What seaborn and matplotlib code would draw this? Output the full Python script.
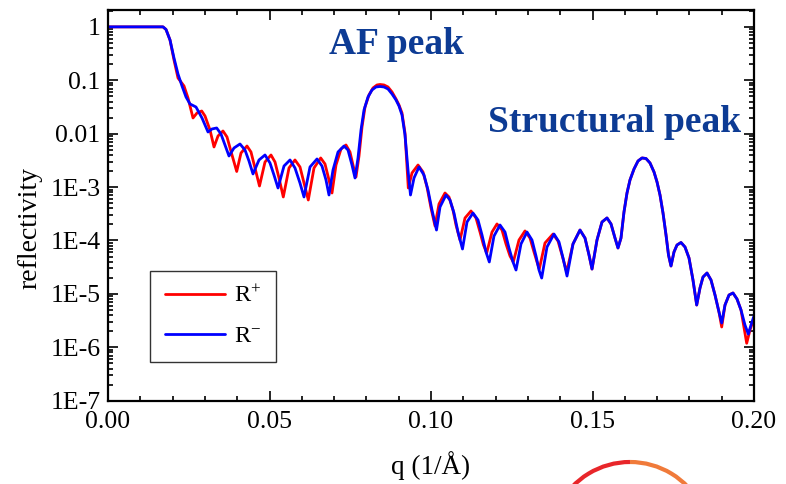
import numpy as np
import pandas as pd
import matplotlib
matplotlib.use("Agg")
import matplotlib.pyplot as plt
import seaborn as sns
from matplotlib.ticker import FixedLocator, FixedFormatter, MultipleLocator, NullFormatter
from matplotlib.patches import Arc

# ---------------- data ----------------
q_minus = [0.0, 0.01703, 0.01796, 0.01920, 0.02043, 0.02167, 0.02291, 0.02415, 0.02539, 0.02724,
           0.02910, 0.03096, 0.03220, 0.03365, 0.03498, 0.03622, 0.03746, 0.03901, 0.04087, 0.04241,
           0.04365, 0.04489, 0.04675, 0.04861, 0.05015, 0.05139, 0.05263, 0.05449, 0.05635, 0.05789,
           0.05944, 0.06068, 0.06254, 0.06471, 0.06625, 0.06749, 0.06842, 0.06966, 0.07121, 0.07307,
           0.07430, 0.07554, 0.07647, 0.07740, 0.07833, 0.07926, 0.08050, 0.08173, 0.08297, 0.08421,
           0.08545, 0.08669, 0.08793, 0.08916, 0.09009, 0.09102, 0.09195, 0.09288, 0.09365, 0.09474,
           0.09628, 0.09783, 0.09907, 0.10031, 0.10170, 0.10279, 0.10464, 0.10588, 0.10712, 0.10836,
           0.10975, 0.11115, 0.11300, 0.11455, 0.11579, 0.11703, 0.11805, 0.11950, 0.12136, 0.12291,
           0.12415, 0.12539, 0.12632, 0.12786, 0.12972, 0.13127, 0.13251, 0.13344, 0.13427, 0.13591,
           0.13808, 0.13963, 0.14087, 0.14211, 0.14396, 0.14613, 0.14768, 0.14892, 0.14985, 0.15139,
           0.15294, 0.15449, 0.15573, 0.15697, 0.15789, 0.15882, 0.15975, 0.16068, 0.16161, 0.16285,
           0.16409, 0.16533, 0.16656, 0.16780, 0.16904, 0.16997, 0.17090, 0.17183, 0.17276, 0.17353,
           0.17430, 0.17523, 0.17616, 0.17740, 0.17864, 0.17988, 0.18111, 0.18226, 0.18328, 0.18421,
           0.18545, 0.18669, 0.18793, 0.18916, 0.19000, 0.19102, 0.19226, 0.19350, 0.19474, 0.19598,
           0.19721, 0.19824, 0.19907, 0.20000]
r_minus = [1.0, 1.0, 0.894, 0.568, 0.2617, 0.1312, 0.0782, 0.0487, 0.0360, 0.0316,
           0.01968, 0.01076, 0.01225, 0.01279, 0.00987, 0.00614, 0.00382, 0.00540, 0.00641, 0.00495,
           0.00308, 0.00176, 0.00322, 0.00399, 0.00283, 0.00168, 0.000962, 0.00248, 0.00322, 0.00228,
           0.00119, 0.000653, 0.00238, 0.00336, 0.00248, 0.00136, 0.000711, 0.00209, 0.00454, 0.00588,
           0.00495, 0.00259, 0.00148, 0.00351, 0.01173, 0.0278, 0.0487, 0.0658, 0.0749, 0.0765,
           0.0749, 0.0687, 0.0554, 0.0428, 0.0330, 0.0224, 0.00946, 0.00209, 0.000711, 0.00148,
           0.00238, 0.00168, 0.000882, 0.000372, 0.000157, 0.000424, 0.000711, 0.000573, 0.000327, 0.000144,
           6.93e-5, 0.000222, 0.000327, 0.000242, 0.000127, 6.09e-5, 3.96e-5, 0.000121, 0.000195, 0.000144,
           7.24e-5, 3.96e-5, 2.80e-5, 8.60e-5, 0.000144, 0.000102, 5.12e-5, 2.80e-5, 1.98e-5, 7.55e-5,
           0.000132, 9.37e-5, 4.70e-5, 2.16e-5, 8.60e-5, 0.000157, 0.000111, 5.35e-5, 2.92e-5, 0.000102,
           0.000222, 0.000264, 0.000204, 0.000111, 7.24e-5, 0.000111, 0.000342, 0.000775, 0.00136, 0.00218,
           0.00308, 0.00351, 0.00343, 0.00283, 0.00192, 0.00125, 0.000711, 0.000327, 0.000127, 5.35e-5,
           3.33e-5, 6.09e-5, 8.23e-5, 9.17e-5, 7.55e-5, 4.70e-5, 1.82e-5, 6.19e-6, 1.29e-5, 2.07e-5,
           2.46e-5, 1.82e-5, 9.53e-6, 4.58e-6, 2.85e-6, 6.19e-6, 9.53e-6, 1.04e-5, 8.02e-6, 4.99e-6,
           2.61e-6, 1.77e-6, 2.61e-6, 3.86e-6]

q_plus = [0.0, 0.01703, 0.01796, 0.01920, 0.02043, 0.02167, 0.02260, 0.02353, 0.02477, 0.02632,
          0.02755, 0.02901, 0.03003, 0.03158, 0.03282, 0.03406, 0.03560, 0.03684, 0.03839, 0.03985,
          0.04118, 0.04303, 0.04427, 0.04551, 0.04690, 0.04861, 0.05046, 0.05170, 0.05294, 0.05427,
          0.05604, 0.05789, 0.05944, 0.06068, 0.06201, 0.06378, 0.06585, 0.06718, 0.06842, 0.06935,
          0.07059, 0.07214, 0.07368, 0.07492, 0.07585, 0.07678, 0.07771, 0.07864, 0.07957, 0.08080,
          0.08204, 0.08328, 0.08421, 0.08545, 0.08669, 0.08793, 0.08916, 0.09009, 0.09102, 0.09195,
          0.09297, 0.09412, 0.09598, 0.09752, 0.09876, 0.10000, 0.10124, 0.10248, 0.10433, 0.10557,
          0.10681, 0.10774, 0.10898, 0.11053, 0.11238, 0.11393, 0.11517, 0.11625, 0.11724, 0.11889,
          0.12043, 0.12198, 0.12322, 0.12446, 0.12548, 0.12724, 0.12910, 0.13065, 0.13189, 0.13282,
          0.13353, 0.13529, 0.13777, 0.13932, 0.14056, 0.14201, 0.14396, 0.14613, 0.14768, 0.14892,
          0.14985, 0.15139, 0.15294, 0.15449, 0.15573, 0.15697, 0.15789, 0.15882, 0.15975, 0.16068,
          0.16161, 0.16285, 0.16409, 0.16533, 0.16656, 0.16780, 0.16904, 0.16997, 0.17090, 0.17183,
          0.17276, 0.17353, 0.17430, 0.17523, 0.17616, 0.17740, 0.17864, 0.17988, 0.18111, 0.18226,
          0.18328, 0.18421, 0.18545, 0.18669, 0.18793, 0.18916, 0.19000, 0.19102, 0.19226, 0.19350,
          0.19474, 0.19598, 0.19721, 0.19774, 0.19876, 0.20000]
r_plus = [1.0, 1.0, 0.894, 0.568, 0.240, 0.1104, 0.0929, 0.0782, 0.0466, 0.01968,
          0.0244, 0.0266, 0.02145, 0.01173, 0.00564, 0.00905, 0.01123, 0.00868, 0.00399, 0.00196,
          0.00435, 0.00588, 0.00454, 0.00228, 0.001048, 0.00295, 0.00399, 0.00295, 0.00148, 0.000653,
          0.00228, 0.00322, 0.00238, 0.00119, 0.000573, 0.00228, 0.00351, 0.00271, 0.00136, 0.000775,
          0.00259, 0.00517, 0.00614, 0.00454, 0.00259, 0.00155, 0.00382, 0.01334, 0.0316, 0.0531,
          0.0718, 0.0817, 0.0834, 0.0817, 0.0749, 0.0604, 0.0447, 0.0345, 0.0244, 0.0103,
          0.000962, 0.00184, 0.00259, 0.00192, 0.001004, 0.000406, 0.000187, 0.000483, 0.000775, 0.000652,
          0.000372, 0.000195, 0.000102, 0.000264, 0.000357, 0.000264, 0.000144, 8.23e-5, 5.83e-5, 0.000144,
          0.000204, 0.000157, 8.60e-5, 5.12e-5, 3.96e-5, 0.000102, 0.000151, 0.000111, 6.09e-5, 3.96e-5,
          2.92e-5, 8.98e-5, 0.000132, 9.79e-5, 5.35e-5, 2.57e-5, 8.60e-5, 0.000157, 0.000111, 5.35e-5,
          2.92e-5, 0.000102, 0.000222, 0.000264, 0.000204, 0.000111, 7.24e-5, 0.000111, 0.000342, 0.000775,
          0.00136, 0.00218, 0.00308, 0.00351, 0.00343, 0.00283, 0.00192, 0.00125, 0.000711, 0.000327,
          0.000127, 5.35e-5, 3.33e-5, 6.09e-5, 8.23e-5, 9.17e-5, 7.55e-5, 4.70e-5, 1.82e-5, 6.19e-6,
          1.29e-5, 2.07e-5, 2.46e-5, 1.82e-5, 9.53e-6, 4.58e-6, 2.40e-6, 6.19e-6, 9.53e-6, 1.04e-5,
          8.02e-6, 4.99e-6, 1.85e-6, 1.19e-6, 2.11e-6, 3.54e-6]

series_names = ["R+", "R-"]
series_labels = ["R$^{\\mathregular{+}}$", "R$^{\\mathregular{-}}$"]
series_colors = ["#ff0000", "#0000ff"]

y_tick_values = [1, 0.1, 0.01, 1e-3, 1e-4, 1e-5, 1e-6, 1e-7]
y_tick_labels = ["1", "0.1", "0.01", "1E-3", "1E-4", "1E-5", "1E-6", "1E-7"]
x_tick_values = [0.00, 0.05, 0.10, 0.15, 0.20]
x_tick_labels = ["0.00", "0.05", "0.10", "0.15", "0.20"]

annotations = ["AF peak", "Structural peak"]

# ---------------- build frame ----------------
df = pd.concat([
    pd.DataFrame({"q": q_plus, "R": r_plus, "series": series_names[0]}),
    pd.DataFrame({"q": q_minus, "R": r_minus, "series": series_names[1]}),
], ignore_index=True)

sns.set_theme(style="ticks")
plt.rcParams["font.family"] = ["Liberation Serif", "DejaVu Serif"]
plt.rcParams["text.color"] = "black"
plt.rcParams["mathtext.fontset"] = "custom"
plt.rcParams["mathtext.rm"] = "Liberation Serif"
plt.rcParams["mathtext.it"] = "Liberation Serif:italic"

fig = plt.figure(figsize=(7.86, 4.84), dpi=100)
ax = fig.add_axes([108 / 786, 1 - 400.7 / 484, (754 - 108) / 786, (400.7 - 10) / 484])

sns.lineplot(data=df, x="q", y="R", hue="series", hue_order=series_names,
             palette=series_colors, estimator=None, sort=False, linewidth=2.0,
             ax=ax, legend=False)

ax.set_yscale("log")
ax.set_xlim(0, 0.2)
ax.set_ylim(1e-7, 2.07)

ax.xaxis.set_major_locator(FixedLocator(x_tick_values))
ax.xaxis.set_major_formatter(FixedFormatter(x_tick_labels))
ax.xaxis.set_minor_locator(MultipleLocator(0.01))
ax.yaxis.set_major_locator(FixedLocator(y_tick_values))
ax.yaxis.set_major_formatter(FixedFormatter(y_tick_labels))
ax.yaxis.set_minor_locator(matplotlib.ticker.LogLocator(base=10, subs=np.arange(2, 10), numticks=20))
ax.yaxis.set_minor_formatter(NullFormatter())

ax.tick_params(which="both", direction="in", top=True, right=True, color="black", width=1.2)
ax.tick_params(which="major", length=7, labelsize=18.5, labelcolor="black")
ax.tick_params(which="minor", length=3.5)
ax.tick_params(axis="x", which="major", pad=7.5)
ax.tick_params(axis="y", which="major", pad=5.5)
for s in ax.spines.values():
    s.set_visible(True)
    s.set_color("black")
    s.set_linewidth(1.6)

ax.set_xlabel("q (1/Å)", fontsize=19.5, color="black")
ax.set_ylabel("reflectivity", fontsize=20, color="black")
ax.xaxis.set_label_coords(0.5, (400.7 - 466) / 390.7)
ax.xaxis.label.set_va("center")
ax.yaxis.set_label_coords((30 - 108) / 646, (400.7 - 228) / 390.7)
ax.yaxis.label.set_va("center")
ax.yaxis.label.set_ha("center")

ax.text(0.0892, 0.46, annotations[0], ha="center", va="center", fontsize=27,
        fontweight="bold", color="#0d3b94")
ax.text(0.1567, 0.0165, annotations[1], ha="center", va="center", fontsize=27,
        fontweight="bold", color="#0d3b94")

handles = [plt.Line2D([], [], color=c, lw=2.0) for c in series_colors]
leg = ax.legend(handles, series_labels, loc="lower left", bbox_to_anchor=(0.065, 0.099),
                frameon=True, fancybox=False, fontsize=17.5, handlelength=2.5,
                borderpad=0.6, labelspacing=0.75, handletextpad=0.35, borderaxespad=0,
                labelcolor="black")
leg.get_frame().set_edgecolor("black")
leg.get_frame().set_linewidth(1.0)

# decorative arc at bottom of the reference picture
center = (630 / 786, 1 - 541.75 / 484)
w, h = 2 * 79.75 / 786, 2 * 79.75 / 484
fig.patches.append(Arc(center, w, h, theta1=90, theta2=140, color="#e8262a", lw=3,
                       transform=fig.transFigure))
fig.patches.append(Arc(center, w, h, theta1=40, theta2=90, color="#f07a3a", lw=3,
                       transform=fig.transFigure))

fig.savefig("out.png", dpi=100)
